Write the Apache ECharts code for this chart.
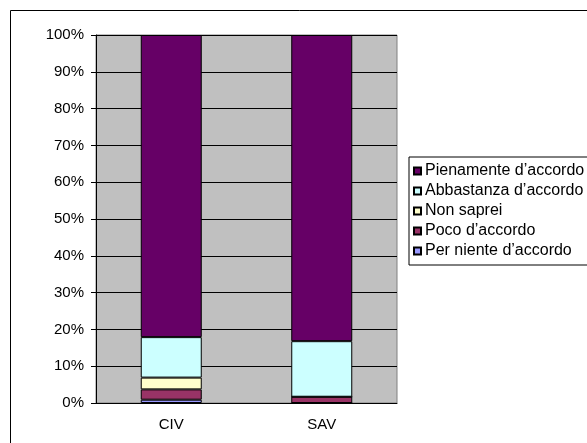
<!DOCTYPE html>
<html>
<head>
<meta charset="utf-8">
<script src="https://cdn.jsdelivr.net/npm/echarts@6/dist/echarts.min.js"></script>
<style>
  html, body { margin: 0; padding: 0; background: #fff; }
  #main { width: 587px; height: 443px; }
</style>
</head>
<body>
<div id="main"></div>
<script>
// categorie e valori (percentuali)
const categories = ['CIV', 'SAV']
const perNiente = [0.9, 0]
const poco = [2.8, 1.7]
const nonSaprei = [3.2, 0]
const abbastanza = [11.0, 15.1]
const pienamente = [82.1, 83.2]

const seriesDefs = [
  { name: 'Per niente d’accordo', data: perNiente, color: '#9999FF' },
  { name: 'Poco d’accordo', data: poco, color: '#993366' },
  { name: 'Non saprei', data: nonSaprei, color: '#FFFFCC' },
  { name: 'Abbastanza d’accordo', data: abbastanza, color: '#CCFFFF' },
  { name: 'Pienamente d’accordo', data: pienamente, color: '#660066' }
]

const font = 'Liberation Sans, Arial, sans-serif'
const myChart = echarts.init(document.getElementById('main'))
myChart.setOption({
  backgroundColor: '#fff',
  animation: false,
  textStyle: { fontFamily: font },
  graphic: [{
    type: 'rect',
    shape: { x: 10.5, y: 10.5, width: 600, height: 460 },
    style: { fill: 'none', stroke: '#000', lineWidth: 1 },
    z: 100
  }],
  grid: {
    left: 96, right: 190, top: 35, bottom: 40,
    show: true, backgroundColor: '#C0C0C0', borderColor: '#808080', borderWidth: 1
  },
  legend: {
    orient: 'vertical',
    left: 409, top: 157,
    data: seriesDefs.map(s => s.name).reverse(),
    itemWidth: 7, itemHeight: 7, itemGap: 4,
    icon: 'rect',
    borderColor: '#000', borderWidth: 1,
    padding: [6, 40, 6, 4],
    textStyle: { fontFamily: font, fontSize: 16, color: '#000', padding: [0, 0, 0, -1] }
  },
  xAxis: {
    type: 'category',
    data: categories,
    axisLine: { lineStyle: { color: '#000' } },
    axisTick: { length: 5, lineStyle: { color: '#000' } },
    axisLabel: { fontFamily: font, fontSize: 15, color: '#000', margin: 14 }
  },
  yAxis: {
    type: 'value',
    min: 0, max: 100, interval: 10,
    axisLine: { show: true, lineStyle: { color: '#000' } },
    axisTick: { show: true, length: 5, lineStyle: { color: '#000' } },
    axisLabel: { formatter: '{value}%', fontFamily: font, fontSize: 15, color: '#000', margin: 12 },
    splitLine: { lineStyle: { color: '#000', width: 1 } }
  },
  series: seriesDefs.map(s => ({
    name: s.name,
    type: 'bar',
    stack: 'tot',
    barWidth: 61,
    data: s.data,
    itemStyle: { color: s.color, borderColor: '#000', borderWidth: 1 }
  }))
})
</script>
</body>
</html>
